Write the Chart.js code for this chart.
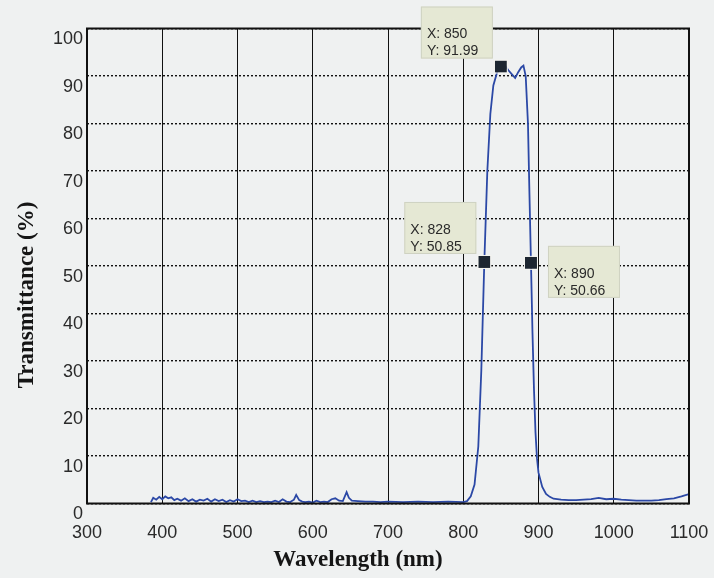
<!DOCTYPE html>
<html>
<head>
<meta charset="utf-8">
<script src="https://cdn.jsdelivr.net/npm/chart.js@4/dist/chart.umd.min.js"></script>
<style>
  html, body { margin: 0; padding: 0; background: #eff1f1; }
  #wrap { width: 714px; height: 578px; }
</style>
</head>
<body>
<div id="wrap"><canvas id="specChart" width="714" height="578"></canvas></div>
<script>
// wavelength (nm) and transmittance (%)
const wavelength = [
  385, 388, 392, 396, 400, 404, 408, 412, 416, 420, 425, 430, 435, 440, 445, 450,
  455, 460, 465, 470, 475, 480, 485, 490, 495, 500, 505, 510, 515, 520, 525, 530,
  535, 540, 545, 550, 555, 560, 565, 570, 575, 578, 582, 586, 590, 595, 600, 605,
  610, 615, 620, 625, 630, 635, 640, 645, 648, 652, 660, 670, 680, 690, 700, 720,
  740, 760, 780, 800, 805, 810, 815, 820, 824, 828, 832, 836, 840, 845, 850, 855,
  860, 865, 869, 873, 877, 880, 883, 886, 888, 890, 892, 894, 896, 898, 900, 905,
  910, 915, 920, 930, 940, 950, 960, 970, 980, 990, 1000, 1010, 1020, 1030, 1040,
  1050, 1060, 1070, 1080, 1090, 1100
];
const transmittance = [
  0.3, 1.2, 0.8, 1.4, 0.9, 1.5, 1.1, 1.3, 0.7, 1.0, 0.6, 1.1, 0.5, 0.9, 0.4, 0.8,
  0.6, 1.0, 0.4, 0.9, 0.5, 0.8, 0.3, 0.7, 0.4, 0.9, 0.5, 0.6, 0.3, 0.6, 0.3, 0.5,
  0.3, 0.4, 0.3, 0.6, 0.3, 0.9, 0.4, 0.3, 0.8, 1.8, 0.7, 0.4, 0.3, 0.4, 0.2, 0.6,
  0.3, 0.4, 0.3, 0.9, 1.1, 0.6, 0.5, 2.4, 1.2, 0.6, 0.5, 0.4, 0.4, 0.3, 0.4, 0.3,
  0.4, 0.3, 0.4, 0.3, 0.5, 1.5, 4, 12, 28, 50.85, 70, 82, 88, 90.8, 91.99, 92.3,
  91.2, 90.3, 89.6, 90.8, 91.8, 92.2, 90, 80, 65, 50.66, 36, 24, 15, 9.5, 6.5, 3.5,
  2, 1.4, 1.0, 0.8, 0.7, 0.7, 0.8, 0.9, 1.2, 0.9, 1.0, 0.8, 0.7, 0.6, 0.6,
  0.6, 0.7, 0.9, 1.1, 1.5, 2.0
];

const xTicks = [300, 400, 500, 600, 700, 800, 900, 1000, 1100];
const yTicks = [0, 10, 20, 30, 40, 50, 60, 70, 80, 90, 100];

// data tips
const tipX = [850, 828, 890];
const tipY = [91.99, 50.85, 50.66];
const tipSide = ["left", "left", "right"];

const framePlugin = {
  id: "frame",
  afterDraw(chart) {
    const { ctx, chartArea: a, scales } = chart;
    ctx.save();
    ctx.strokeStyle = "#111";
    ctx.lineWidth = 2;
    ctx.strokeRect(a.left, a.top, a.right - a.left, a.bottom - a.top);

    // axis titles
    ctx.fillStyle = "#151515";
    ctx.font = "bold 23px 'Liberation Serif', 'Times New Roman', serif";
    ctx.textAlign = "center";
    ctx.textBaseline = "middle";
    ctx.fillText("Wavelength (nm)", 358, 560);
    ctx.translate(27, 295);
    ctx.rotate(-Math.PI / 2);
    ctx.fillText("Transmittance (%)", 0, 0);
    ctx.restore();

    // data tips
    ctx.save();
    tipX.forEach((wx, i) => {
      const px = scales.x.getPixelForValue(wx);
      const py = scales.y.getPixelForValue(tipY[i]);
      const w = 72, h = 52;
      const bx = tipSide[i] === "left" ? px - 80 : px + 17;
      const by = tipSide[i] === "left" ? py - 60 : py - 17;
      ctx.fillStyle = "#e5e8d4";
      ctx.fillRect(bx, by, w, h);
      ctx.strokeStyle = "#cfd2c2";
      ctx.lineWidth = 1;
      ctx.strokeRect(bx + 0.5, by + 0.5, w - 1, h - 1);
      ctx.fillStyle = "#2a2a2a";
      ctx.font = "14px 'Liberation Sans', Arial, sans-serif";
      ctx.textAlign = "left";
      ctx.textBaseline = "middle";
      ctx.fillText("X: " + wx, bx + 6, by + 28);
      ctx.fillText("Y: " + tipY[i].toFixed(2), bx + 6, by + 45);

      ctx.fillStyle = "#1d2631";
      ctx.strokeStyle = "#f4f4f0";
      ctx.fillRect(px - 6, py - 6, 12, 12);
      ctx.strokeRect(px - 6.5, py - 6.5, 13, 13);
    });
    ctx.restore();
  }
};

const ctx = document.getElementById("specChart").getContext("2d");
new Chart(ctx, {
  type: "line",
  data: {
    datasets: [
      {
        data: wavelength.map((w, i) => ({ x: w, y: transmittance[i] })),
        borderColor: "#2b48a6",
        borderWidth: 1.8,
        pointRadius: 0,
        tension: 0,
        fill: false,
      },
    ],
  },
  options: {
    responsive: false,
    animation: false,
    layout: { padding: { left: 0, top: 28.5, right: 25, bottom: 0 } },
    plugins: {
      legend: { display: false },
      tooltip: { enabled: false },
    },
    scales: {
      x: {
        type: "linear",
        min: 300,
        max: 1100,
        afterBuildTicks: (axis) => { axis.ticks = xTicks.map((v) => ({ value: v })); },
        afterFit: (axis) => {
          axis.height = 74.5;
          axis.paddingLeft = 0;
          axis.paddingRight = 0;
        },
        grid: { color: "#111", lineWidth: 1, drawTicks: false },
        border: { display: false },
        ticks: {
          padding: 19,
          color: "#2a2a2a",
          callback: (v) => String(v),
          font: { family: "'Liberation Sans', Arial, sans-serif", size: 18 },
        },
      },
      y: {
        min: 0,
        max: 100,
        afterBuildTicks: (axis) => { axis.ticks = yTicks.map((v) => ({ value: v })); },
        afterFit: (axis) => {
          axis.width = 87;
          axis.paddingTop = 0;
          axis.paddingBottom = 0;
        },
        grid: { color: "#111", lineWidth: 1.4, drawTicks: false },
        border: { display: false, dash: [2, 2] },
        ticks: {
          padding: 4,
          labelOffset: 11,
          color: "#2a2a2a",
          callback: (v) => String(v),
          font: { family: "'Liberation Sans', Arial, sans-serif", size: 18 },
        },
      },
    },
  },
  plugins: [framePlugin],
});
</script>
</body>
</html>
